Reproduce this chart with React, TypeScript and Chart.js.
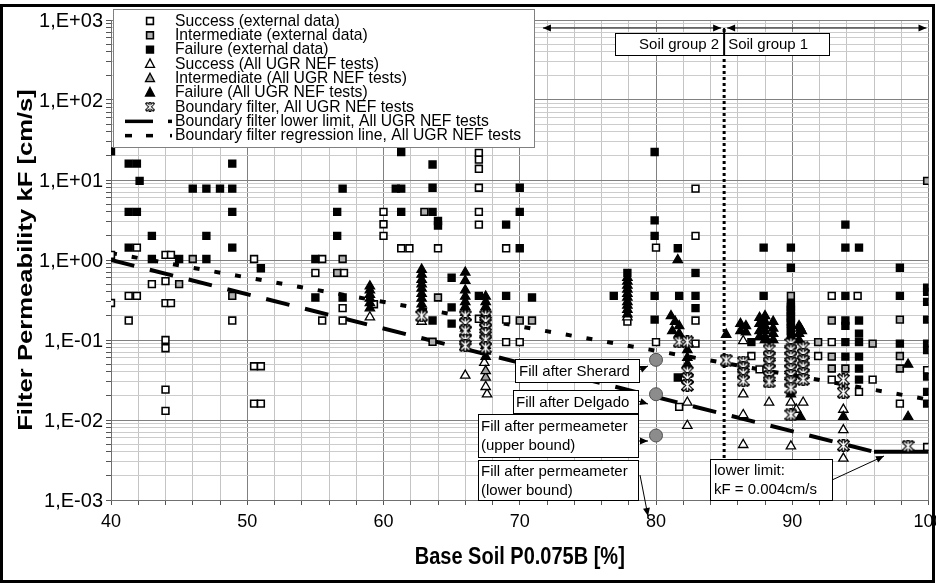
import React, { useEffect, useRef } from 'react';
import { Chart, registerables } from 'chart.js';
Chart.register(...registerables);

type P = [number, number];

const X_MIN = 40;
const X_MAX = 100;
const Y_MIN = 1e-3;
const Y_MAX = 1e3;
const X_LABELS = [40, 50, 60, 70, 80, 90, 100];
const Y_DECADES = [-3, -2, -1, 0, 1, 2, 3];

const successExternal: P[] = [
  [40, 1.16], [40, 0.29], [41.9, 1.43], [41.3, 0.356], [41.9, 0.356], [41.3, 0.175], [43, 0.5],
  [44, 1.16], [44.4, 1.16], [44, 0.545], [44, 0.289], [44.4, 0.289], [44, 0.1], [44, 0.079],
  [44, 0.024], [44, 0.013], [48.9, 0.175], [50.5, 1.03], [50.5, 0.047], [51, 0.047], [50.5, 0.016],
  [51, 0.016], [55, 0.69], [55.5, 1.03], [55.5, 0.175], [57.1, 0.69], [57, 0.25], [57, 0.175],
  [59.3, 0.28], [60, 4], [60, 2.8], [60, 2], [61.3, 1.4], [61.9, 1.4], [64, 1.4], [67, 21.8],
  [67, 18], [67, 13.8], [67, 8], [67, 4], [67, 2.77], [67, 0.184], [69, 1.4], [69, 0.18],
  [69, 0.094], [70, 0.094], [77.9, 0.17], [80, 1.43], [80, 0.094], [82.9, 7.8], [82.9, 2],
  [82.9, 0.175], [82.9, 0.09], [81.7, 0.0146], [87, 0.063], [87.9, 0.175], [87.6, 0.043],
  [91.9, 0.063], [92.9, 0.356], [94.8, 0.356], [92.9, 0.094], [92.9, 0.032], [94.9, 0.0225],
  [95.9, 0.032], [97.9, 0.016], [99.9, 0.042], [99.9, 0.0046],
];

const intermediateExternal: P[] = [
  [46, 1.03], [45, 0.5], [48.9, 0.356], [57, 1.03], [56.6, 0.69], [63, 4], [64, 0.34],
  [63.6, 0.095], [70, 0.175], [70.9, 0.175], [89.9, 0.356], [92.9, 0.175], [91.9, 0.094],
  [92.9, 0.062], [92.9, 0.044], [93.9, 0.044], [95.9, 0.09], [97.9, 0.18], [97.9, 0.063],
  [97.9, 0.044], [99.9, 9.75],
];

const failureExternal: P[] = [
  [40, 22.8], [41.3, 16], [41.9, 16], [48.9, 16], [42.1, 9.75], [46, 7.8], [47, 7.8], [48, 7.8],
  [48.9, 7.8], [57, 7.8], [60.9, 7.8], [61.3, 7.8], [41.3, 4], [41.9, 4], [48.9, 4], [56.6, 4],
  [61.3, 4], [43, 2], [47, 2], [56.6, 2], [41.3, 1.43], [48.9, 1.43], [43, 1.03], [45, 1.03],
  [47, 1.03], [51, 0.79], [55, 1.03], [55, 0.34], [57, 0.34], [61.3, 22.4], [63.6, 15.6],
  [79.9, 22.4], [63.6, 8], [70, 8], [63.6, 4], [64, 3.07], [64, 2.7], [70, 4], [69, 2.77],
  [79.9, 3.13], [79.9, 2], [70, 1.4], [81.6, 1.4], [65, 0.6], [65, 0.256], [65, 0.16],
  [63.6, 0.175], [67, 0.356], [69, 0.356], [70.9, 0.34], [77.9, 0.69], [76.9, 0.356],
  [79.9, 0.356], [79.9, 0.18], [82.9, 0.69], [82.9, 0.356], [82.9, 0.25], [81.7, 0.356],
  [81.6, 0.034], [87, 0.094], [87.9, 1.43], [89.9, 1.43], [89.9, 0.8], [87.9, 0.356],
  [93.9, 2.77], [93.9, 1.43], [94.9, 1.43], [93.9, 0.356], [93.9, 0.175], [94.9, 0.175],
  [93.9, 0.15], [93.9, 0.094], [94.9, 0.094], [93.9, 0.062], [94.9, 0.062], [94.9, 0.044],
  [94.9, 0.032], [94.9, 0.12], [97.9, 0.8], [97.9, 0.356], [97.9, 0.09], [99.9, 0.09],
  [99.9, 0.075], [99.9, 0.45], [99.9, 0.4], [99.9, 0.3], [99.9, 0.18], [99.9, 0.035],
  [99.9, 0.0225], [99.9, 0.016], [89.9, 0.28], [89.9, 0.26], [89.9, 0.24], [89.9, 0.22],
  [89.9, 0.2], [89.9, 0.19], [89.9, 0.17], [89.9, 0.16], [89.9, 0.14], [89.9, 0.13],
  [89.9, 0.11],
];

const successUGR: P[] = [
  [59, 0.193], [62.8, 0.17], [66, 0.036], [67.4, 0.052], [67.6, 0.021], [67.5, 0.026],
  [77.9, 0.193], [82.3, 0.0166], [82.3, 0.0085], [86.4, 0.0975], [86.4, 0.021], [86.4, 0.0116],
  [86.4, 0.0049], [88.3, 0.0166], [89.9, 0.0166], [90.8, 0.0166], [90.3, 0.0135], [89.9, 0.0047],
  [93.75, 0.0135], [93.75, 0.0075], [93.75, 0.0033],
];

const intermediateUGR: P[] = [[67.5, 0.034], [67.5, 0.041]];

const failureUGR: P[] = [
  [59, 0.47], [59, 0.42], [59, 0.37], [59, 0.33], [59, 0.29], [59, 0.25],
  [62.8, 0.76], [62.8, 0.66], [62.8, 0.57], [62.8, 0.5], [62.8, 0.44], [62.8, 0.38], [62.8, 0.33],
  [62.8, 0.28], [62.8, 0.24],
  [66, 0.7], [66, 0.55], [66, 0.42], [66, 0.35], [66, 0.3], [66, 0.26], [66, 0.22], [66, 0.19],
  [66, 0.14], [66, 0.12],
  [67.5, 0.35], [67.5, 0.3], [67.5, 0.26], [67.5, 0.22], [67.5, 0.19], [67.5, 0.16], [67.5, 0.085],
  [67.5, 0.072], [67.5, 0.062],
  [77.9, 0.6], [77.9, 0.54], [77.9, 0.48], [77.9, 0.43], [77.9, 0.38], [77.9, 0.34], [77.9, 0.3],
  [77.9, 0.27], [77.9, 0.24], [77.9, 0.21],
  [81.6, 1.0], [81.1, 0.2], [81.4, 0.17], [81.7, 0.15], [81.2, 0.13], [81.7, 0.12],
  [82.3, 0.075], [82.3, 0.06], [82.3, 0.05], [85.15, 0.117], [86.2, 0.16], [86.2, 0.13],
  [86.6, 0.15], [86.6, 0.125], [87.6, 0.19], [87.6, 0.16], [87.6, 0.13], [87.6, 0.11],
  [88, 0.2], [88, 0.17], [88, 0.15], [88, 0.13], [88, 0.11], [88, 0.1], [88.6, 0.17],
  [88.6, 0.14], [88.6, 0.12], [88.6, 0.1], [89.9, 0.021], [90.5, 0.15], [90.6, 0.14],
  [90.7, 0.13], [90.5, 0.12], [90.5, 0.1], [90.6, 0.011], [93.75, 0.011], [98.5, 0.0495],
  [98.5, 0.011],
];

const boundaryFilter: P[] = [
  [62.8, 0.2], [66, 0.2], [66, 0.16], [66, 0.13], [66, 0.1], [66, 0.085], [67.5, 0.2],
  [67.5, 0.17], [67.5, 0.14], [67.5, 0.12], [67.5, 0.1], [67.5, 0.08], [81.7, 0.095],
  [82.3, 0.095], [82.3, 0.04], [82.3, 0.033], [82.3, 0.027], [85.15, 0.056], [86.4, 0.053],
  [86.4, 0.045], [86.4, 0.038], [86.4, 0.031], [88.3, 0.075], [88.3, 0.062], [88.3, 0.052],
  [88.3, 0.043], [88.3, 0.035], [88.3, 0.03], [89.9, 0.09], [89.9, 0.075], [89.9, 0.062],
  [89.9, 0.052], [89.9, 0.043], [89.9, 0.036], [89.9, 0.03], [89.9, 0.025], [89.9, 0.0116],
  [90.8, 0.08], [90.8, 0.066], [90.8, 0.055], [90.8, 0.046], [90.8, 0.038], [90.8, 0.032],
  [93.75, 0.032], [93.75, 0.022], [93.75, 0.0048], [98.5, 0.0047],
];

const fillPoints: P[] = [[80, 0.0565], [80, 0.021], [80, 0.0064]];

const lowerLimitLine: P[] = [[40, 1.0], [96, 0.004], [100, 0.004]];
const regressionLine: P[] = [[40, 1.22], [100, 0.018]];
const soilGroupBoundary: P[] = [[85, 1e-3], [85, 800]];

const LEGEND_LABELS = [
  'Success (external data)',
  'Intermediate (external data)',
  'Failure (external data)',
  'Success (All UGR NEF tests)',
  'Intermediate (All UGR NEF tests)',
  'Failure (All UGR NEF tests)',
  'Boundary filter, All UGR NEF tests',
  'Boundary filter lower limit, All UGR NEF tests',
  'Boundary filter regression line, All UGR NEF tests',
];

const FONT = "'Liberation Sans', Arial, sans-serif";

const toXY = (arr: P[]) => arr.map(([x, y]) => ({ x, y }));

function makeBoundaryImage(): HTMLCanvasElement {
  const c = document.createElement('canvas');
  c.width = 13;
  c.height = 13;
  const g = c.getContext('2d')!;
  const path = () => {
    g.beginPath();
    g.moveTo(2.5, 2.5); g.lineTo(10.5, 10.5);
    g.moveTo(10.5, 2.5); g.lineTo(2.5, 10.5);
    g.moveTo(6.5, 1.5); g.lineTo(6.5, 11.5);
  };
  g.lineCap = 'square';
  g.strokeStyle = '#000';
  g.lineWidth = 3.8;
  path();
  g.stroke();
  g.strokeStyle = '#fff';
  g.lineWidth = 1.4;
  g.lineCap = 'butt';
  path();
  g.stroke();
  return c;
}

function drawSquare(ctx: CanvasRenderingContext2D, x: number, y: number, fill: string) {
  ctx.fillStyle = fill;
  ctx.strokeStyle = '#000';
  ctx.lineWidth = 1.6;
  ctx.beginPath();
  ctx.rect(x - 3.4, y - 3.4, 6.8, 6.8);
  ctx.fill();
  ctx.stroke();
}

function drawTriangle(ctx: CanvasRenderingContext2D, x: number, y: number, fill: string) {
  ctx.fillStyle = fill;
  ctx.strokeStyle = '#000';
  ctx.lineWidth = 1.3;
  ctx.beginPath();
  ctx.moveTo(x, y - 5);
  ctx.lineTo(x + 4.5, y + 3.5);
  ctx.lineTo(x - 4.5, y + 3.5);
  ctx.closePath();
  ctx.fill();
  ctx.stroke();
}

function arrowHead(ctx: CanvasRenderingContext2D, x1: number, y1: number, x2: number, y2: number, len = 8, wid = 3.5) {
  const a = Math.atan2(y2 - y1, x2 - x1);
  ctx.beginPath();
  ctx.moveTo(x2, y2);
  ctx.lineTo(x2 - len * Math.cos(a) + wid * Math.sin(a), y2 - len * Math.sin(a) - wid * Math.cos(a));
  ctx.lineTo(x2 - len * Math.cos(a) - wid * Math.sin(a), y2 - len * Math.sin(a) + wid * Math.cos(a));
  ctx.closePath();
  ctx.fill();
}

function arrow(ctx: CanvasRenderingContext2D, x1: number, y1: number, x2: number, y2: number, both = false, lw = 1) {
  ctx.strokeStyle = '#000';
  ctx.fillStyle = '#000';
  ctx.lineWidth = lw;
  ctx.beginPath();
  ctx.moveTo(x1, y1);
  ctx.lineTo(x2, y2);
  ctx.stroke();
  arrowHead(ctx, x1, y1, x2, y2);
  if (both) arrowHead(ctx, x2, y2, x1, y1);
}

function textBox(ctx: CanvasRenderingContext2D, x: number, y: number, w: number, h: number, lines: string[], tx: number, lh = 19) {
  ctx.fillStyle = '#fff';
  ctx.fillRect(x, y, w, h);
  ctx.strokeStyle = '#000';
  ctx.lineWidth = 1;
  ctx.strokeRect(x + 0.5, y + 0.5, w, h);
  ctx.fillStyle = '#000';
  ctx.font = `15px ${FONT}`;
  ctx.textAlign = 'left';
  ctx.textBaseline = 'middle';
  const start = y + h / 2 - ((lines.length - 1) * lh) / 2 + 1;
  lines.forEach((l, i) => ctx.fillText(l, tx, start + i * lh));
}

const isDecade = (v: number) => Math.abs(Math.log10(v) - Math.round(Math.log10(v))) < 1e-9;
const decadeLabel = (v: number) => {
  const e = Math.round(Math.log10(v));
  return `1,E${e >= 0 ? '+' : '-'}${String(Math.abs(e)).padStart(2, '0')}`;
};

const annotationPlugin = {
  id: 'annotations',
  afterDatasetsDraw(chart: any) {
    const ctx: CanvasRenderingContext2D = chart.ctx;
    const xs = chart.scales.x;
    ctx.save();
    const xb = xs.getPixelForValue(85);
    const xl = xs.getPixelForValue(71.7);
    const xr = xs.getPixelForValue(100) - 2;
    const ya = 28;
    arrow(ctx, xl, ya, xb - 3, ya, true, 1.2);
    arrow(ctx, xb + 3, ya, xr, ya, true, 1.2);
    ctx.fillStyle = '#fff';
    ctx.fillRect(615, 33, 214, 22);
    ctx.strokeStyle = '#000';
    ctx.lineWidth = 1;
    ctx.strokeRect(615.5, 33.5, 214, 22);
    ctx.lineWidth = 2;
    ctx.beginPath();
    ctx.moveTo(xb, ya);
    ctx.lineTo(xb, 56);
    ctx.stroke();
    ctx.fillStyle = '#000';
    ctx.font = `15px ${FONT}`;
    ctx.textBaseline = 'middle';
    ctx.textAlign = 'right';
    ctx.fillText('Soil group 2', xb - 5, 45);
    ctx.textAlign = 'left';
    ctx.fillText('Soil group 1', xb + 4, 45);

    textBox(ctx, 515, 359, 124, 23, ['Fill after Sherard'], 519);
    arrow(ctx, 639, 370, 648, 366);
    textBox(ctx, 513, 390, 125, 23, ['Fill after Delgado'], 516);
    arrow(ctx, 638, 401, 648, 404);
    textBox(ctx, 478, 414, 160, 43, ['Fill after permeameter', '(upper bound)'], 481);
    arrow(ctx, 638, 441, 648, 441);
    textBox(ctx, 478, 460, 160, 40, ['Fill after permeameter', '(lower bound)'], 481);
    arrow(ctx, 640, 475, 648, 516);
    textBox(ctx, 710, 459, 122, 41, ['lower limit:', 'kF = 0.004cm/s'], 714);
    arrow(ctx, 832, 480, 884, 456);
    ctx.restore();
  },
  afterDraw(chart: any) {
    const ctx: CanvasRenderingContext2D = chart.ctx;
    const area = chart.chartArea;
    const xs = chart.scales.x;
    const ys = chart.scales.y;
    ctx.save();
    ctx.fillStyle = '#000';
    ctx.font = `20px ${FONT}`;
    ctx.textAlign = 'right';
    ctx.textBaseline = 'middle';
    for (const e of Y_DECADES) {
      const v = Math.pow(10, e);
      ctx.fillText(decadeLabel(v), area.left - 8, ys.getPixelForValue(v) + 1);
    }
    ctx.font = `18px ${FONT}`;
    ctx.textAlign = 'center';
    for (const v of X_LABELS) {
      ctx.fillText(String(v), xs.getPixelForValue(v), area.bottom + 22);
    }
    // legend
    ctx.fillStyle = '#fff';
    ctx.fillRect(113, 9, 421, 138);
    ctx.strokeStyle = '#808080';
    ctx.lineWidth = 1;
    ctx.strokeRect(113.5, 9.5, 421, 138);
    const img = chart.$boundaryImg as HTMLCanvasElement;
    LEGEND_LABELS.forEach((label, i) => {
      const y = 21 + i * 14.3;
      const mx = 150;
      if (i === 0) drawSquare(ctx, mx, y, '#fff');
      if (i === 1) drawSquare(ctx, mx, y, '#b0b0b0');
      if (i === 2) drawSquare(ctx, mx, y, '#000');
      if (i === 3) drawTriangle(ctx, mx, y, '#fff');
      if (i === 4) drawTriangle(ctx, mx, y, '#a0a0a0');
      if (i === 5) drawTriangle(ctx, mx, y, '#000');
      if (i === 6 && img) ctx.drawImage(img, mx - 5, y - 5, 10, 10);
      if (i === 7) {
        ctx.fillStyle = '#000';
        ctx.fillRect(125, y - 1.5, 28, 3.5);
        ctx.fillRect(168, y - 1.5, 4, 3.5);
      }
      if (i === 8) {
        ctx.fillStyle = '#000';
        ctx.fillRect(125, y - 1.5, 7, 3.5);
        ctx.fillRect(146, y - 1.5, 7, 3.5);
        ctx.fillRect(170, y - 1.5, 2, 3.5);
      }
      ctx.fillStyle = '#000';
      ctx.font = `15.7px ${FONT}`;
      ctx.textAlign = 'left';
      ctx.textBaseline = 'middle';
      ctx.fillText(label, 175, y + 0.5);
    });
    // axis titles
    ctx.fillStyle = '#000';
    ctx.font = `bold 20px ${FONT}`;
    ctx.textAlign = 'center';
    ctx.textBaseline = 'middle';
    ctx.save();
    ctx.translate((area.left + area.right) / 2, 558);
    ctx.scale(1, 1.15);
    ctx.fillText('Base Soil P0.075B [%]', 0, 0);
    ctx.restore();
    ctx.save();
    ctx.translate(26, (area.top + area.bottom) / 2);
    ctx.rotate(-Math.PI / 2);
    ctx.scale(1.22, 1);
    ctx.font = `bold 21px ${FONT}`;
    ctx.fillText('Filter Permeability kF [cm/s]', 0, 0);
    ctx.restore();
    // outer frame
    ctx.strokeStyle = '#000';
    ctx.lineWidth = 3;
    ctx.strokeRect(1.5, 5.5, 932, 576);
    ctx.restore();
  },
};

export default function App() {
  const ref = useRef<HTMLCanvasElement | null>(null);
  useEffect(() => {
    if (!ref.current) return;
    const boundaryImg = makeBoundaryImage();
    const sq = (data: P[], fill: string) => ({
      data: toXY(data), pointStyle: 'rect', pointRadius: 4.8, backgroundColor: fill,
      borderColor: '#000', borderWidth: 1.6, showLine: false,
    });
    const tri = (data: P[], fill: string) => ({
      data: toXY(data), pointStyle: 'triangle', pointRadius: 5.4, backgroundColor: fill,
      borderColor: '#000', borderWidth: 1.3, showLine: false,
    });
    const chart = new Chart(ref.current, {
      type: 'scatter',
      data: {
        datasets: [
          { label: 'Fill', data: toXY(fillPoints), pointStyle: 'circle', pointRadius: 6.5,
            backgroundColor: '#8c8c8c', borderColor: '#505050', borderWidth: 1, showLine: false } as any,
          { label: LEGEND_LABELS[6], data: toXY(boundaryFilter), pointStyle: boundaryImg, showLine: false } as any,
          { label: LEGEND_LABELS[5], ...tri(failureUGR, '#000') } as any,
          { label: LEGEND_LABELS[4], ...tri(intermediateUGR, '#a0a0a0') } as any,
          { label: LEGEND_LABELS[3], ...tri(successUGR, '#fff') } as any,
          { label: LEGEND_LABELS[2], ...sq(failureExternal, '#000') } as any,
          { label: LEGEND_LABELS[1], ...sq(intermediateExternal, '#b0b0b0') } as any,
          { label: LEGEND_LABELS[0], ...sq(successExternal, '#fff') } as any,
          { label: LEGEND_LABELS[7], data: toXY(lowerLimitLine), showLine: true, borderColor: '#000',
            borderWidth: 4, pointRadius: 0, fill: false,
            segment: { borderDash: (c: any) => (c.p0DataIndex === 0 ? [24, 16] : []) } } as any,
          { label: LEGEND_LABELS[8], data: toXY(regressionLine), showLine: true, borderColor: '#000',
            borderWidth: 4, borderDash: [6, 15], pointRadius: 0, fill: false } as any,
          { label: 'Soil group boundary', data: toXY(soilGroupBoundary), showLine: true, borderColor: '#000',
            borderWidth: 3, borderDash: [3, 3], pointRadius: 0, fill: false } as any,
        ],
      },
      options: {
        responsive: false,
        animation: false,
        devicePixelRatio: 1,
        layout: { padding: { top: 20, right: 7, left: 0, bottom: 0 } },
        plugins: { legend: { display: false }, tooltip: { enabled: false }, title: { display: false } },
        scales: {
          x: {
            type: 'linear', min: X_MIN, max: X_MAX,
            afterFit: (s: any) => { s.height = 84; s.paddingLeft = 0; s.paddingRight = 0; },
            afterBuildTicks: (s: any) => {
              const t = [];
              for (let v = X_MIN; v <= X_MAX; v += 2) t.push({ value: v });
              s.ticks = t;
            },
            ticks: { display: false, autoSkip: false },
            grid: {
              color: (c: any) => (c.tick && c.tick.value % 10 === 0 ? '#808080' : '#c4c4c4'),
              tickColor: '#555', tickLength: 5, lineWidth: 1,
            },
            border: { color: '#707070', width: 1 },
          },
          y: {
            type: 'logarithmic', min: Y_MIN, max: Y_MAX,
            afterFit: (s: any) => { s.width = 111; s.paddingTop = 0; s.paddingBottom = 0; },
            afterBuildTicks: (s: any) => {
              const t = [];
              for (const e of Y_DECADES) {
                if (e === 3) { t.push({ value: 1000 }); break; }
                for (let m = 1; m <= 9; m++) t.push({ value: m * Math.pow(10, e) });
              }
              s.ticks = t;
            },
            ticks: { display: false, autoSkip: false },
            grid: {
              color: (c: any) => (c.tick && isDecade(c.tick.value) ? '#808080' : '#cccccc'),
              tickColor: '#555', tickLength: 5, lineWidth: 1,
            },
            border: { color: '#707070', width: 1 },
          },
        },
      } as any,
      plugins: [annotationPlugin as any],
    });
    (chart as any).$boundaryImg = boundaryImg;
    chart.draw();
    return () => chart.destroy();
  }, []);
  return (
    <div style={{ position: 'absolute', left: 0, top: 0, width: 936, height: 584, background: '#fff' }}>
      <canvas ref={ref} width={936} height={584} style={{ display: 'block' }} />
    </div>
  );
}
